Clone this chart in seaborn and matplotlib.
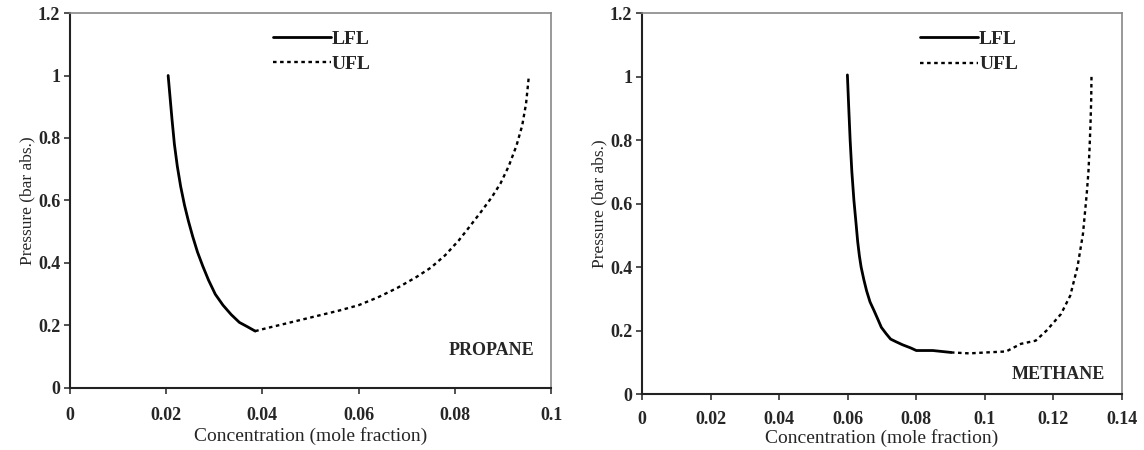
from matplotlib import pyplot as plt
from matplotlib.ticker import FuncFormatter
import seaborn as sns

# propane flammability limits
propane_lfl_x = [0.0204, 0.0208, 0.0212, 0.0217, 0.0223, 0.0230, 0.0238, 0.0246, 0.0255,
                 0.0265, 0.0276, 0.0288, 0.0302, 0.0318, 0.0335, 0.0352, 0.0370, 0.0385]
propane_lfl_p = [1.0, 0.93, 0.86, 0.78, 0.71, 0.645, 0.585, 0.535, 0.485,
                 0.435, 0.39, 0.345, 0.30, 0.265, 0.235, 0.21, 0.195, 0.182]
propane_ufl_x = [0.0385, 0.041, 0.044, 0.048, 0.052, 0.056, 0.060, 0.064, 0.068, 0.072,
                 0.075, 0.078, 0.0808, 0.083, 0.0855, 0.0877, 0.0895, 0.0912, 0.0928,
                 0.0940, 0.0948, 0.0954]
propane_ufl_p = [0.182, 0.192, 0.203, 0.218, 0.233, 0.248, 0.265, 0.29, 0.32, 0.355,
                 0.385, 0.425, 0.472, 0.515, 0.565, 0.611, 0.655, 0.71, 0.775,
                 0.84, 0.91, 1.0]

# methane flammability limits
methane_lfl_x = [0.0599, 0.0603, 0.0607, 0.0612, 0.0618, 0.0624, 0.0629, 0.0634, 0.0639,
                 0.0647, 0.0655, 0.0665, 0.0677, 0.0688, 0.0698, 0.0712, 0.0725, 0.0740,
                 0.0760, 0.0784, 0.0800, 0.0848, 0.0901]
methane_lfl_p = [1.005, 0.90, 0.80, 0.70, 0.61, 0.54, 0.48, 0.435, 0.40,
                 0.36, 0.325, 0.29, 0.262, 0.235, 0.21, 0.19, 0.173, 0.165,
                 0.155, 0.145, 0.137, 0.137, 0.131]
methane_ufl_x = [0.0901, 0.0955, 0.1005, 0.1062, 0.1105, 0.1148, 0.1180, 0.1222,
                 0.1249, 0.1270, 0.1286, 0.1297, 0.1302, 0.1305, 0.1308, 0.1310, 0.1311]
methane_ufl_p = [0.131, 0.128, 0.131, 0.134, 0.158, 0.168, 0.20, 0.252,
                 0.31, 0.40, 0.504, 0.63, 0.70, 0.767, 0.85, 0.924, 1.005]

sns.set_style('ticks')
plt.rcParams['font.family'] = ['Liberation Serif', 'DejaVu Serif']

fig = plt.figure(figsize=(11.44, 4.5), dpi=100)
ax1 = fig.add_axes([0.0612, 0.1378, 0.4205, 0.8333])
ax2 = fig.add_axes([0.5612, 0.1244, 0.4196, 0.8467])

fmt = FuncFormatter(lambda v, _: '%g' % round(v, 4))


def draw(ax, lx, lp, ux, up, xmax, name, leg_x, name_y, xpad, xlabpad):
    sns.lineplot(x=lx, y=lp, sort=False, color='black', lw=2.0,
                 label='LFL', ax=ax)
    sns.lineplot(x=ux, y=up, sort=False, color='black', lw=1.7,
                 linestyle=(0, (1.5, 1.5)), label='UFL', ax=ax)
    ax.set_xlim(0, xmax)
    ax.set_ylim(0, 1.2)
    ax.set_xticks([i * 0.02 for i in range(int(round(xmax / 0.02)) + 1)])
    ax.set_yticks([0, 0.2, 0.4, 0.6, 0.8, 1.0, 1.2])
    ax.xaxis.set_major_formatter(fmt)
    ax.yaxis.set_major_formatter(fmt)
    for lab in ax.get_xticklabels() + ax.get_yticklabels():
        lab.set_fontweight('bold')
        lab.set_fontsize(13)
    ax.tick_params(axis='x', length=4, width=1.2, pad=xpad, color='#333333')
    ax.tick_params(axis='y', length=4, width=1.2, pad=3, color='#333333')
    ax.set_xlabel('Concentration (mole fraction)', fontsize=14, labelpad=xlabpad)
    ax.set_ylabel('Pressure (bar abs.)', fontsize=12.5, labelpad=2)
    for s in ['left', 'bottom']:
        ax.spines[s].set_color('#222222')
        ax.spines[s].set_linewidth(1.5)
    for s in ['top', 'right']:
        ax.spines[s].set_visible(True)
        ax.spines[s].set_color('#888888')
        ax.spines[s].set_linewidth(1.2)
    ax.text(0.965, name_y, name, transform=ax.transAxes, ha='right',
            va='center', fontsize=13, fontweight='bold')
    leg = ax.legend(loc='upper left', bbox_to_anchor=(leg_x, 0.975),
                    frameon=False, handlelength=3.0, handletextpad=0.05,
                    labelspacing=0.4, fontsize=14, borderaxespad=0)
    for t in leg.get_texts():
        t.set_fontweight('bold')


draw(ax1, propane_lfl_x, propane_lfl_p, propane_ufl_x, propane_ufl_p,
     0.1, 'PROPANE', 0.405, 0.1, 10, 2)
draw(ax2, methane_lfl_x, methane_lfl_p, methane_ufl_x, methane_ufl_p,
     0.14, 'METHANE', 0.5625, 0.05, 8, 1)

fig.savefig('out.png', dpi=100)
plt.close(fig)
